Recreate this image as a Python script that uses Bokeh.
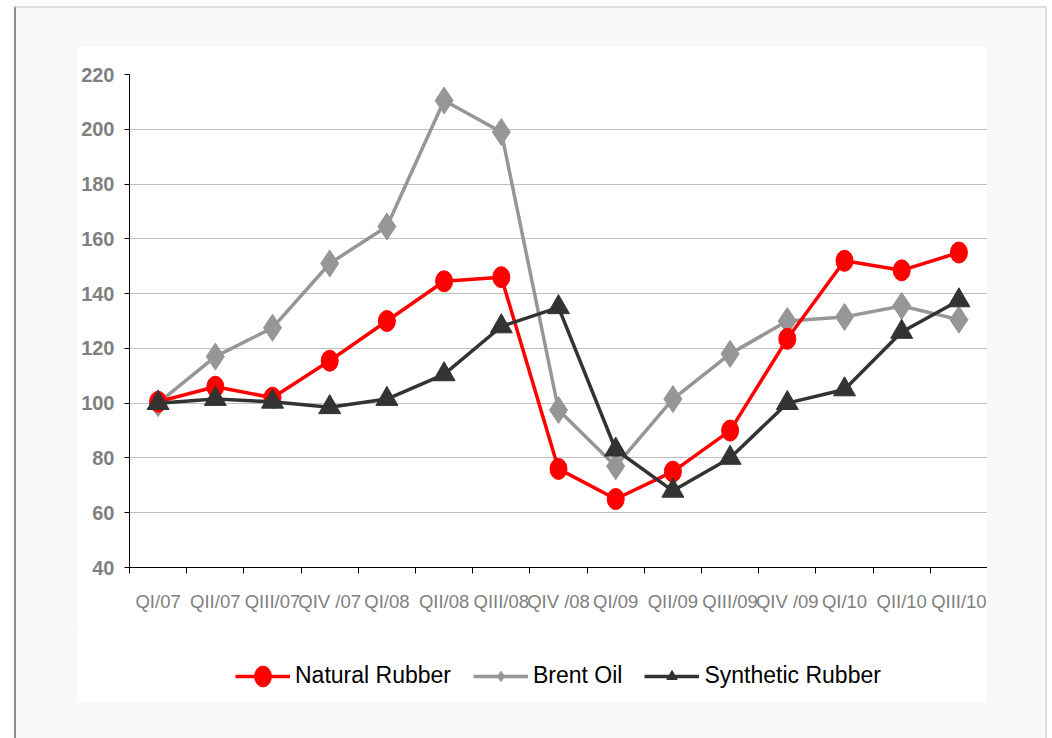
from bokeh.plotting import figure
from bokeh.models import Range1d, FixedTicker, Legend, LegendItem, ColumnDataSource
from bokeh.layouts import column
from bokeh.embed import file_html
from bokeh.resources import INLINE

quarters = ["QI/07", "QII/07", "QIII/07", "QIV /07", "QI/08", "QII/08", "QIII/08", "QIV /08",
            "QI/09", "QII/09", "QIII/09", "QIV /09", "QI/10", "QII/10", "QIII/10"]
natural_rubber = [100.5, 106, 102, 115.5, 130, 144.5, 146, 76, 65, 75, 90, 123.5, 152, 148.5, 155]
brent_oil = [100, 117, 127.5, 151, 164.5, 210.5, 199, 97.5, 77, 101.5, 118, 130, 131.5, 135.5, 130.5]
synthetic_rubber = [100, 101.5, 100.5, 98.5, 101.5, 110.5, 128, 135, 83, 68, 80, 100, 105, 126, 137.5]
y_ticks = [40, 60, 80, 100, 120, 140, 160, 180, 200, 220]

FONT = "'Liberation Sans', Arial, sans-serif"
RED, GRAY, DARK = "#ff0000", "#969696", "#333333"

xs = [i + 0.5 for i in range(len(quarters))]
src = ColumnDataSource(dict(x=xs, nr=natural_rubber, bo=brent_oil, sr=synthetic_rubber))

p = figure(width=911, height=579, output_backend="svg", toolbar_location=None,
           x_range=Range1d(0, len(quarters)), y_range=Range1d(40, 220),
           min_border_left=53, min_border_right=0, min_border_top=28, min_border_bottom=58)
p.background_fill_color = "white"
p.border_fill_color = "white"
p.outline_line_color = None

# axes
p.xaxis.ticker = FixedTicker(ticks=xs, minor_ticks=list(range(len(quarters) + 1)))
p.xaxis.major_label_overrides = {x: q for x, q in zip(xs, quarters)}
p.xaxis.major_tick_line_color = None
p.xaxis.major_tick_in = 0
p.xaxis.major_tick_out = 6
p.xaxis.minor_tick_line_color = "#000000"
p.xaxis.minor_tick_in = 0
p.xaxis.minor_tick_out = 6
p.xaxis.axis_line_color = "#000000"
p.xaxis.major_label_text_font = FONT
p.xaxis.major_label_text_font_size = "18.5px"
p.xaxis.major_label_text_color = "#808080"
p.xaxis.major_label_standoff = 17

p.yaxis.ticker = FixedTicker(ticks=y_ticks)
p.yaxis.minor_tick_line_color = None
p.yaxis.major_tick_line_color = "#000000"
p.yaxis.major_tick_in = 0
p.yaxis.major_tick_out = 5
p.yaxis.axis_line_color = "#000000"
p.yaxis.major_label_text_font = FONT
p.yaxis.major_label_text_font_style = "bold"
p.yaxis.major_label_text_font_size = "20px"
p.yaxis.major_label_text_color = "#808080"
p.yaxis.major_label_standoff = 10

p.xgrid.grid_line_color = None
p.ygrid.grid_line_color = "#c0c0c0"
p.ygrid.grid_line_width = 1


def draw(fig):
    l_bo = fig.line("x", "bo", source=src, line_color=GRAY, line_width=3.5)
    m_bo = fig.scatter("x", "bo", source=src, marker="diamond", size=27, fill_color=GRAY,
                       line_color=GRAY)
    l_nr = fig.line("x", "nr", source=src, line_color=RED, line_width=3.5)
    m_nr = fig.ellipse("x", "nr", source=src, width=17, height=21, width_units="screen",
                       height_units="screen", fill_color=RED, line_color=RED)
    l_sr = fig.line("x", "sr", source=src, line_color=DARK, line_width=3.5)
    m_sr = fig.scatter("x", "sr", source=src, marker="triangle", size=22, fill_color=DARK,
                       line_color=DARK)
    return (l_nr, m_nr), (l_bo, m_bo), (l_sr, m_sr)


draw(p)

# legend strip below the chart (its renderers lie outside its visible range)
lg = figure(width=911, height=78, output_backend="svg", toolbar_location=None,
            x_range=Range1d(0, len(quarters)), y_range=Range1d(1000, 1001),
            x_axis_location=None, y_axis_location=None,
            min_border_left=0, min_border_right=0, min_border_top=0, min_border_bottom=0)
lg.grid.visible = False
lg.outline_line_color = None
lg.background_fill_color = "white"
lg.border_fill_color = "white"
nr, bo, sr = draw(lg)

legend = Legend(items=[
    LegendItem(label="Natural Rubber", renderers=list(nr)),
    LegendItem(label="Brent Oil", renderers=list(bo)),
    LegendItem(label="Synthetic Rubber", renderers=list(sr)),
], orientation="horizontal", location=(106, 14))
legend.border_line_color = None
legend.background_fill_alpha = 0
legend.padding = 0
legend.margin = 0
legend.spacing = 22
legend.glyph_width = 55
legend.glyph_height = 26
legend.label_standoff = 5
legend.label_text_font = FONT
legend.label_text_font_size = "23px"
legend.label_text_color = "#000000"
lg.add_layout(legend, "center")

page = column(p, lg, spacing=0,
              styles={"background-color": "#f8f8f8", "padding": "38px 58px 40px 60px",
                      "margin-left": "14px", "margin-top": "6px",
                      "border-left": "2px solid #8c8c8c", "border-top": "2px solid #dedede",
                      "border-right": "2px solid #dedede"})

open("out.html", "w").write(file_html(page, INLINE))
